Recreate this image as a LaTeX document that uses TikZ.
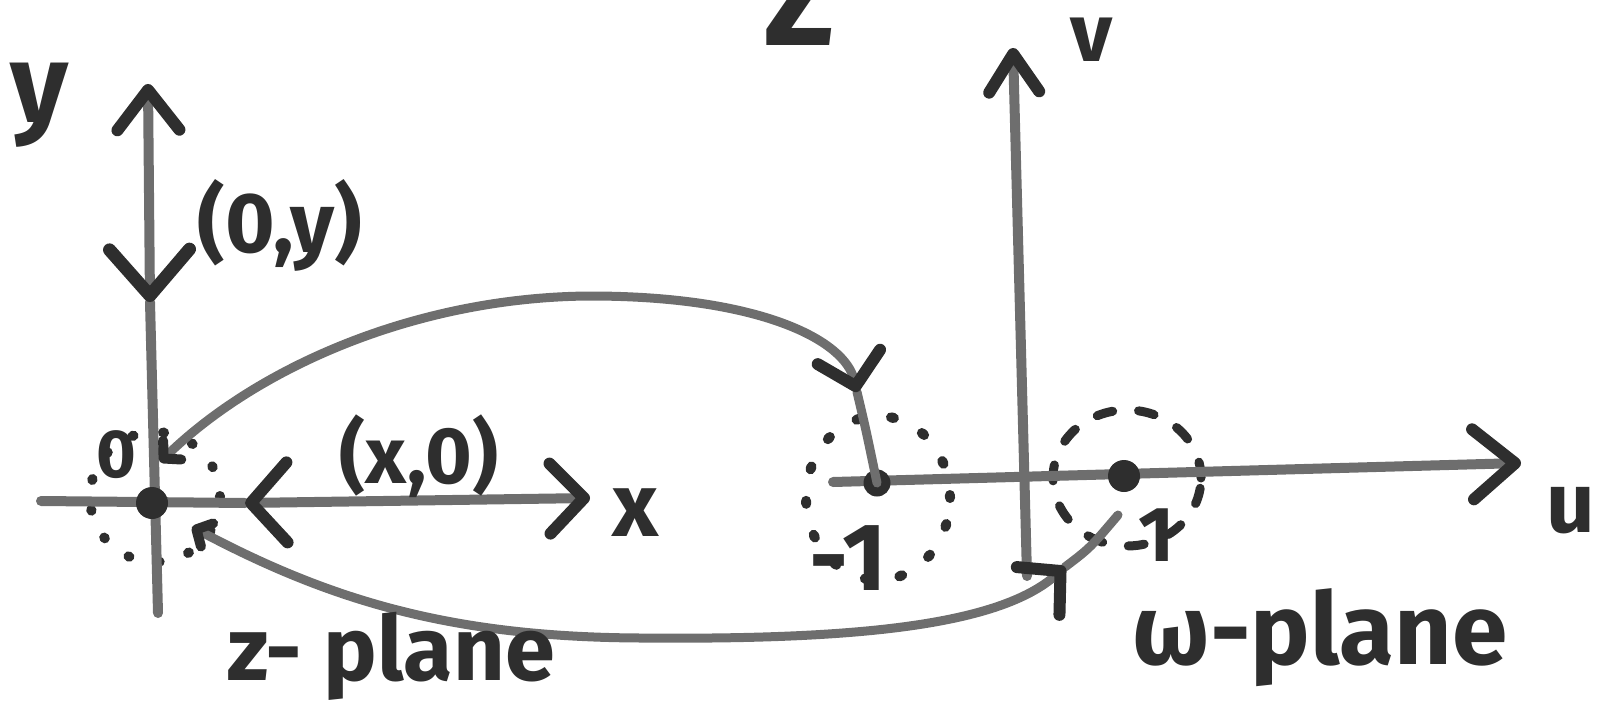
\documentclass[tikz,border=0pt]{standalone}
\usepackage{fontspec}
\setmainfont{Fira Sans}
\usetikzlibrary{arrows.meta}
\definecolor{ink}{HTML}{2E2E2E}
\definecolor{pen}{HTML}{6E6E6E}
\newcommand{\fs}[1]{\fontsize{#1}{#1}\selectfont\bfseries}
\begin{document}
\begin{tikzpicture}[x=1pt,y=-1pt,
  axis/.style={draw=pen,line width=10pt,line cap=round,line join=round},
  curve/.style={draw=pen,line width=9pt,line cap=round},
  lbl/.style={text=ink,inner sep=0pt},
  dotnode/.style={circle,fill=ink,inner sep=0pt,minimum size=32pt},
  dotring/.style={draw=ink,line width=10pt,line cap=round,dash pattern=on 1pt off 30pt},
  dashring/.style={draw=ink,line width=9pt,line cap=round,dash pattern=on 16pt off 26pt},
  chevYu/.tip={Straight Barb[length=40pt,width=62pt,line width=12pt,round,color=ink]},
  chevYd/.tip={Straight Barb[length=46pt,width=80pt,line width=13pt,round,color=ink]},
  chevXr/.tip={Straight Barb[length=34pt,width=70pt,line width=12pt,round,color=ink]},
  chevXl/.tip={Straight Barb[length=36pt,width=80pt,line width=12pt,round,color=ink]},
  chevU/.tip={Straight Barb[length=42pt,width=70pt,line width=12pt,round,color=ink]},
  chevV/.tip={Straight Barb[length=38pt,width=50pt,line width=12pt,round,color=ink]},
  chevC/.tip={Straight Barb[length=30pt,width=64pt,line width=12pt,round,color=ink]},
  chevS/.tip={Straight Barb[length=12pt,width=26pt,line width=10pt,round,color=ink]}
]
\useasboundingbox (0,0) rectangle (1602,714);
\clip (0,0) rectangle (1602,714);

% ---------- coordinates ----------
\coordinate (xs) at (41,501);
\coordinate (xm) at (245,503);
\coordinate (xe) at (590,498);
\coordinate (yb) at (158,613);
\coordinate (yv) at (150,302);
\coordinate (yt) at (148,84);
\coordinate (us) at (833,482);
\coordinate (ue) at (1521,463);
\coordinate (vb) at (1027,576);
\coordinate (vt) at (1013,48);
\coordinate (ustart) at (160,462);
\coordinate (ua) at (857,392);
\coordinate (lstart) at (192,527);
\coordinate (la) at (1065,567);
\coordinate (lend) at (1118,515);

% ---------- dotted / dashed neighbourhoods ----------
\draw[dotring] (155,497) circle[radius=65pt];
\draw[dotring,dash pattern=on 3pt off 32pt] (878,498) ellipse[x radius=72pt,y radius=82pt];
\draw[dashring] (1127,478) ellipse[x radius=74pt,y radius=68pt];

% ---------- z-plane axes ----------
\draw[axis] (xs) -- (xm);
\draw[axis,{chevXl}-{chevXr}] (xm) -- (xe);
\draw[axis] (yb) -- (yv);
\draw[axis,{chevYd}-{chevYu}] (yv) -- (yt);

% ---------- w-plane axes ----------
\draw[axis,-{chevU}] (us) -- (ue);
\draw[axis,-{chevV}] (vb) -- (vt);

% ---------- points ----------
\node[dotnode] (O) at (152,503) {};
\node[dotnode,minimum size=27pt] (M1) at (877,483) {};
\node[dotnode] (P1) at (1124,476) {};

% ---------- mapping curves ----------
\draw[curve] (ua) .. controls (866,430) .. (M1.center);
\draw[curve,{chevS}-{chevC}] (ustart) .. controls (260,365) and (420,297) .. (590,296)
      .. controls (760,296) and (845,340) .. (ua);
\draw[curve] (la) .. controls (1090,548) .. (lend);
\draw[curve,{chevS}-{chevC}] (lstart) .. controls (330,600) and (450,637) .. (640,638)
      .. controls (860,640) and (1000,625) .. (la);

% ---------- labels ----------
\node[lbl,font=\fs{112}] (ylab) at (40,105) {y};
\node[lbl,font=\fs{85}] (oy) at (280,225) {(0,y)};
\node[lbl,font=\fs{80}] (xo) at (419,456) {(x,0)};
\node[lbl,font=\fs{90}] (xlab) at (636,513) {x};
\node[lbl,font=\fs{68}] (zero) at (116,455) {0};
\node[lbl,font=\fs{90}] (zp) at (391,656) {z- plane};
\node[lbl,font=\fs{96}] (m1lab) at (848,558) {-1};
\node[lbl,font=\fs{78}] (p1lab) at (1157,535) {1};
\node[lbl,font=\fs{100}] (wp) at (1320,638) {ω-plane};
\node[lbl,font=\fs{85}] (ulab) at (1571,511) {u};
\node[lbl,font=\fs{82}] (vlab) at (1092,40) {v};
\node[lbl,font=\fs{130},anchor=base] (Zlab) at (800,46) {Z};
\end{tikzpicture}
\end{document}
